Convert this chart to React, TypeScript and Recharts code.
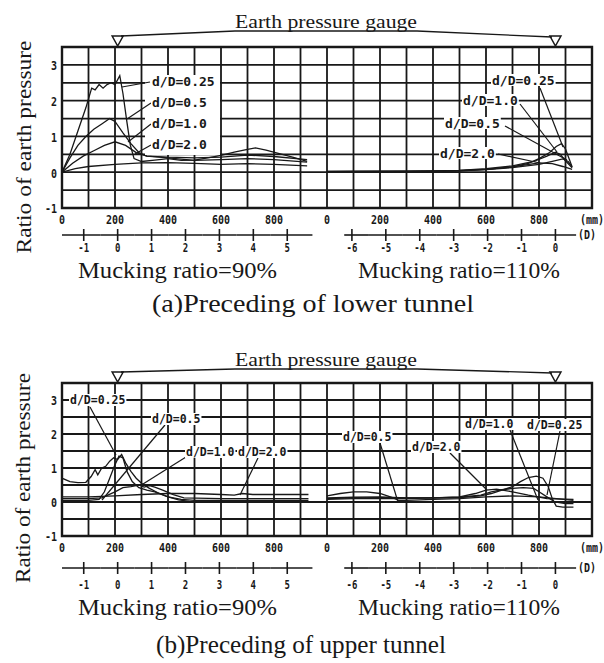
import React from 'react';
import { LineChart, Line, XAxis, YAxis, CartesianGrid, ReferenceDot, ReferenceArea } from 'recharts';

type Pt = [number, number];

// ---------- (a) Preceding of lower tunnel ----------
// Mucking ratio = 90%  (x in mm)
const a90_025: Pt[] = [[0,0],[30,0.5],[60,1.15],[90,1.8],[112,2.35],[125,2.3],[140,2.45],[155,2.35],[170,2.45],[185,2.5],[200,2.45],[218,2.7],[230,2.2],[245,1.4],[258,0.75],[272,0.38],[300,0.3],[350,0.34],[400,0.38],[450,0.33],[500,0.34],[550,0.4],[600,0.47],[650,0.56],[700,0.64],[730,0.68],[770,0.62],[820,0.52],[870,0.42],[925,0.3]];
const a90_05: Pt[] = [[0,0],[30,0.4],[60,0.75],[90,1.0],[120,1.2],[150,1.35],[180,1.5],[200,1.42],[230,1.1],[260,0.8],[290,0.55],[320,0.45],[400,0.42],[500,0.4],[600,0.42],[700,0.48],[800,0.44],[925,0.35]];
const a90_10: Pt[] = [[0,0],[40,0.25],[80,0.45],[120,0.6],[160,0.75],[200,0.85],[240,0.75],[280,0.55],[320,0.45],[400,0.4],[500,0.33],[600,0.35],[700,0.38],[800,0.35],[925,0.28]];
const a90_20: Pt[] = [[0,0],[50,0.1],[100,0.16],[200,0.22],[300,0.26],[400,0.27],[500,0.25],[600,0.22],[700,0.24],[800,0.22],[925,0.18]];
// Mucking ratio = 110%  (x in mm of the right section)
const a110_025: Pt[] = [[0,0.02],[100,0.03],[200,0.03],[300,0.03],[400,0.04],[500,0.05],[600,0.08],[700,0.15],[760,0.25],[800,0.38],[840,0.55],[865,0.72],[885,0.8],[900,0.65],[915,0.35],[925,0.15]];
const a110_10: Pt[] = [[0,0.02],[200,0.02],[400,0.03],[500,0.05],[600,0.1],[700,0.18],[780,0.3],[830,0.45],[862,0.56],[880,0.5],[900,0.32],[925,0.12]];
const a110_05: Pt[] = [[0,0.01],[200,0.02],[400,0.03],[500,0.04],[600,0.07],[700,0.13],[800,0.22],[850,0.3],[890,0.37],[910,0.3],[925,0.15]];
const a110_20: Pt[] = [[0,0.01],[200,0.01],[400,0.02],[500,0.04],[600,0.08],[700,0.15],[800,0.26],[850,0.24],[890,0.16],[925,0.08]];

// ---------- (b) Preceding of upper tunnel ----------
const b90_025: Pt[] = [[0,0.7],[30,0.6],[60,0.57],[90,0.58],[110,0.75],[125,0.95],[135,0.8],[150,1.0],[165,1.05],[180,1.2],[195,1.3],[210,1.25],[225,1.4],[240,1.15],[260,0.9],[280,0.7],[300,0.55],[330,0.4],[360,0.28],[400,0.15],[440,0.06],[480,0.02],[600,0.0],[700,0.0],[800,0.0],[930,0.0]];
const b90_05: Pt[] = [[0,0.05],[50,0.05],[100,0.05],[140,0.08],[160,0.3],[180,0.7],[200,1.1],[215,1.35],[230,1.3],[245,0.9],[265,0.6],[290,0.42],[320,0.35],[350,0.3],[400,0.15],[450,0.08],[500,0.05],[600,0.05],[700,0.05],[800,0.05],[930,0.05]];
const b90_10: Pt[] = [[0,0.1],[100,0.1],[150,0.12],[200,0.3],[230,0.42],[260,0.45],[290,0.5],[310,0.44],[330,0.48],[350,0.44],[380,0.35],[420,0.22],[460,0.12],[600,0.1],[700,0.1],[800,0.1],[930,0.1]];
const b90_20: Pt[] = [[0,0.15],[100,0.15],[200,0.18],[300,0.22],[400,0.25],[500,0.25],[600,0.22],[650,0.2],[680,0.25],[720,0.22],[800,0.22],[930,0.22]];
const b110_025: Pt[] = [[0,0.12],[100,0.14],[200,0.15],[300,0.12],[400,0.12],[500,0.13],[580,0.18],[620,0.25],[660,0.35],[700,0.45],[730,0.6],[760,0.72],[790,0.76],[815,0.7],[835,0.45],[850,0.1],[865,-0.12],[890,-0.15],[930,-0.15]];
const b110_10: Pt[] = [[0,0.1],[100,0.12],[200,0.13],[300,0.12],[400,0.12],[500,0.14],[580,0.2],[620,0.3],[660,0.36],[700,0.4],[740,0.42],[780,0.4],[800,0.3],[830,0.15],[860,0.0],[900,-0.05],[930,-0.05]];
const b110_05: Pt[] = [[0,0.18],[50,0.25],[100,0.3],[150,0.3],[200,0.25],[250,0.12],[270,0.05],[300,0.05],[400,0.08],[500,0.1],[600,0.15],[700,0.18],[800,0.15],[930,0.05]];
const b110_20: Pt[] = [[0,0.08],[100,0.1],[200,0.1],[300,0.1],[400,0.12],[500,0.15],[560,0.25],[600,0.35],[640,0.38],[700,0.3],[760,0.2],[830,0.1],[930,0.08]];

// ---------- axes ----------
const RIGHT_OFFSET = 1000; // right section starts at 1000 mm on the shared grid
const X_MAX = 2000;
const GRID_STEP_X = 100;
const MM_LABELS_LEFT = [0, 200, 400, 600, 800];
const MM_LABELS_RIGHT = [0, 200, 400, 600, 800];
const MM_UNIT = '(mm)';
const Y_TICKS = [-1, -0.5, 0, 0.5, 1, 1.5, 2, 2.5, 3, 3.5];
const Y_LABELS = [-1, 0, 1, 2, 3];
const D_LEFT = [-1, 0, 1, 2, 3, 4, 5];
const D_RIGHT = [-6, -5, -4, -3, -2, -1, 0];
const GAUGE_LEFT = 210;
const GAUGE_RIGHT = 1862;
const D_MM = 128;
const D_LINE_LEFT: [number, number] = [0, 945];
const D_LINE_RIGHT: [number, number] = [1065, 1940];

const W = 604;
const PLOT_L = 62;
const PLOT_R = 592;
const PX_PER_MM = (PLOT_R - PLOT_L) / X_MAX;

const SERIF = '"Liberation Serif", "Times New Roman", serif';
const MONO = '"DejaVu Sans Mono", "Liberation Mono", monospace';
const INK = '#181818';

const X_TICKS = Array.from({ length: X_MAX / GRID_STEP_X + 1 }, (_, i) => i * GRID_STEP_X);

function mmLabel(v: number): string {
  if (v === X_MAX) return MM_UNIT;
  if (v < RIGHT_OFFSET && MM_LABELS_LEFT.includes(v)) return String(v);
  if (v >= RIGHT_OFFSET && MM_LABELS_RIGHT.includes(v - RIGHT_OFFSET)) return String(v - RIGHT_OFFSET);
  return '';
}

type DInfo = { label: string; from: number; to: number; unit: boolean };
const D_INFO = new Map<number, DInfo>();
D_LEFT.forEach((d, i) => {
  const v = GAUGE_LEFT + d * D_MM;
  D_INFO.set(v, {
    label: String(d),
    from: i === 0 ? D_LINE_LEFT[0] : v - D_MM / 2,
    to: i === D_LEFT.length - 1 ? D_LINE_LEFT[1] : v + D_MM / 2,
    unit: false,
  });
});
D_RIGHT.forEach((d, i) => {
  const v = GAUGE_RIGHT + d * D_MM;
  D_INFO.set(v, {
    label: String(d),
    from: i === 0 ? D_LINE_RIGHT[0] : v - D_MM / 2,
    to: i === D_RIGHT.length - 1 ? D_LINE_RIGHT[1] : v + D_MM / 2,
    unit: i === D_RIGHT.length - 1,
  });
});
const D_TICKS = Array.from(D_INFO.keys());
const D_DUMMY = D_TICKS.map((x) => ({ x, v: null as number | null }));

const tickText: React.CSSProperties = { fontFamily: MONO, fontWeight: 700, fill: INK };

const MmTick = (props: any) => {
  const { x, y, payload } = props;
  const label = mmLabel(payload.value);
  if (!label) return <g />;
  return (
    <g transform={`translate(${x},${y + 12})`}>
      <text textAnchor="middle" dominantBaseline="central" fontSize={10} transform="scale(1,1.3)" style={tickText}>{label}</text>
    </g>
  );
};

const YTick = (props: any) => {
  const { x, y, payload } = props;
  if (!Y_LABELS.includes(payload.value)) return <g />;
  return (
    <g transform={`translate(${x - 5},${y + 1})`}>
      <text textAnchor="end" dominantBaseline="central" fontSize={10} transform="scale(1,1.3)" style={tickText}>{String(payload.value)}</text>
    </g>
  );
};

const DTick = (props: any) => {
  const { x, y, payload, lineDy, labelDy } = props;
  const info = D_INFO.get(payload.value);
  if (!info) return <g />;
  const ly = y + lineDy;
  const x1 = x - (payload.value - info.from) * PX_PER_MM;
  const x2 = x + (info.to - payload.value) * PX_PER_MM;
  return (
    <g>
      <line x1={x1} x2={x2} y1={ly} y2={ly} stroke={INK} strokeWidth={1.6} />
      <line x1={x} x2={x} y1={ly - 6} y2={ly + 6} stroke={INK} strokeWidth={1.6} />
      <g transform={`translate(${x},${y + labelDy})`}>
        <text textAnchor="middle" dominantBaseline="central" fontSize={9} transform="scale(1,1.3)" style={tickText}>{info.label}</text>
      </g>
      {info.unit && (
        <g transform={`translate(${x2 + 2},${ly})`}>
          <text textAnchor="start" dominantBaseline="central" fontSize={10} transform="scale(1,1.3)" style={tickText}>(D)</text>
        </g>
      )}
    </g>
  );
};

const GaugeMark = (props: any) => {
  const { cx, cy } = props;
  return <path d={`M${cx - 5.5},${cy - 11} L${cx + 5.5},${cy - 11} L${cx},${cy - 1} Z`} fill="#fff" stroke={INK} strokeWidth={1.5} />;
};

const toData = (pts: Pt[], offset = 0) => pts.map(([x, v]) => ({ x: x + offset, v }));

type PanelProps = {
  top: number;
  plotH: number;
  dAxisH: number;
  dLineDy: number;
  dLabelDy: number;
  left: Pt[][];
  right: Pt[][];
};

const Panel = ({ top, plotH, dAxisH, dLineDy, dLabelDy, left, right }: PanelProps) => {
  const marginTop = 47;
  const mmH = 20;
  const height = marginTop + plotH + mmH + dAxisH;
  return (
    <div style={{ position: 'absolute', left: 0, top }}>
      <LineChart width={W} height={height} margin={{ top: marginTop, right: W - PLOT_R, bottom: 0, left: 0 }}>
        <CartesianGrid stroke={INK} strokeWidth={1.8} xAxisId={0} yAxisId={0} />
        <XAxis xAxisId={0} dataKey="x" type="number" domain={[0, X_MAX]} ticks={X_TICKS} interval={0} height={mmH}
          axisLine={false} tickLine={false} tickSize={0} tickMargin={0} tick={<MmTick />} allowDataOverflow />
        <XAxis xAxisId={1} dataKey="x" type="number" domain={[0, X_MAX]} ticks={D_TICKS} interval={0} height={dAxisH}
          axisLine={false} tickLine={false} tickSize={0} tickMargin={0} tick={<DTick lineDy={dLineDy} labelDy={dLabelDy} />} allowDataOverflow />
        <YAxis yAxisId={0} type="number" domain={[-1, 3.5]} ticks={Y_TICKS} interval={0} width={PLOT_L}
          axisLine={false} tickLine={false} tickSize={0} tickMargin={0} tick={<YTick />} allowDataOverflow />
        <ReferenceArea xAxisId={0} yAxisId={0} x1={0} x2={X_MAX} y1={-1} y2={3.5} fill="none" stroke={INK} strokeWidth={2.4} ifOverflow="visible" />
        {left.map((s, i) => (
          <Line key={'l' + i} xAxisId={0} yAxisId={0} data={toData(s)} dataKey="v" type="linear" dot={false}
            stroke={INK} strokeWidth={1.3} isAnimationActive={false} />
        ))}
        {right.map((s, i) => (
          <Line key={'r' + i} xAxisId={0} yAxisId={0} data={toData(s, RIGHT_OFFSET)} dataKey="v" type="linear" dot={false}
            stroke={INK} strokeWidth={1.3} isAnimationActive={false} />
        ))}
        <Line xAxisId={1} yAxisId={0} data={D_DUMMY} dataKey="v" dot={false} stroke="none" isAnimationActive={false} legendType="none" />
        <ReferenceDot xAxisId={0} yAxisId={0} x={GAUGE_LEFT} y={3.5} ifOverflow="visible" shape={GaugeMark} />
        <ReferenceDot xAxisId={0} yAxisId={0} x={GAUGE_RIGHT} y={3.5} ifOverflow="visible" shape={GaugeMark} />
      </LineChart>
    </div>
  );
};

type Ann = { t: string; x: number; y: number; l: [number, number, number, number] };

const ANN_A: Ann[] = [
  { t: 'd/D=0.25', x: 152, y: 81, l: [150, 82, 122, 87] },
  { t: 'd/D=0.5', x: 152, y: 102, l: [151, 103, 127, 119] },
  { t: 'd/D=1.0', x: 152, y: 123, l: [151, 124, 128, 142] },
  { t: 'd/D=2.0', x: 152, y: 144, l: [151, 145, 135, 154] },
  { t: 'd/D=0.25', x: 492, y: 80, l: [540, 88, 563, 147] },
  { t: 'd/D=1.0', x: 463, y: 100, l: [520, 104, 557, 152] },
  { t: 'd/D=0.5', x: 445, y: 123, l: [505, 126, 567, 160] },
  { t: 'd/D=2.0', x: 440, y: 153, l: [498, 154, 540, 163] },
];
const ANN_B: Ann[] = [
  { t: 'd/D=0.25', x: 70, y: 400, l: [90, 407, 116, 455] },
  { t: 'd/D=0.5', x: 152, y: 419, l: [165, 425, 102, 500] },
  { t: 'd/D=1.0', x: 186, y: 452, l: [186, 457, 143, 484] },
  { t: 'd/D=2.0', x: 238, y: 452, l: [258, 458, 240, 495] },
  { t: 'd/D=0.5', x: 343, y: 437, l: [380, 443, 398, 502] },
  { t: 'd/D=2.0', x: 412, y: 447, l: [450, 453, 487, 490] },
  { t: 'd/D=1.0', x: 465, y: 424, l: [510, 430, 538, 500] },
  { t: 'd/D=0.25', x: 527, y: 425, l: [560, 431, 547, 495] },
];

const AnnLabel = ({ a, size }: { a: Ann; size: number }) => {
  const cw = size * 0.602;
  return (
    <g>
      <line x1={a.l[0]} y1={a.l[1]} x2={a.l[2]} y2={a.l[3]} stroke={INK} strokeWidth={1.2} />
      <rect x={a.x - 1} y={a.y - 6} width={a.t.length * cw + 2} height={12} fill="#fff" />
      <text x={a.x} y={a.y} dominantBaseline="central" fontSize={size} fontFamily={MONO} fontWeight={700} fill={INK}>{a.t}</text>
    </g>
  );
};

const Overlay = () => (
  <svg width={W} height={663} style={{ position: 'absolute', left: 0, top: 0, pointerEvents: 'none' }}>
    {/* panel (a) */}
    <text x={235} y={28} fontSize={19} fontFamily={SERIF} fill={INK} textLength={182} lengthAdjust="spacingAndGlyphs">Earth pressure gauge</text>
    <line x1={235} x2={417} y1={31} y2={31} stroke={INK} strokeWidth={1.3} />
    <line x1={121} y1={36} x2={235} y2={31} stroke={INK} strokeWidth={1.3} />
    <line x1={417} y1={31} x2={552} y2={37} stroke={INK} strokeWidth={1.3} />
    <rect x={145} y={77} width={75} height={78} fill="#fff" />
    {ANN_A.map((a, i) => <AnnLabel key={i} a={a} size={13} />)}
    <text transform="translate(31,147) rotate(-90)" textAnchor="middle" fontSize={22} fontFamily={SERIF} fill={INK} textLength={213} lengthAdjust="spacingAndGlyphs">Ratio of earth pressure</text>
    <text x={78} y={278} fontSize={23} fontFamily={SERIF} fill={INK} textLength={199} lengthAdjust="spacingAndGlyphs">Mucking ratio=90%</text>
    <text x={358} y={278} fontSize={23} fontFamily={SERIF} fill={INK} textLength={202} lengthAdjust="spacingAndGlyphs">Mucking ratio=110%</text>
    <text x={152} y={312} fontSize={26} fontFamily={SERIF} fill={INK} textLength={322} lengthAdjust="spacingAndGlyphs">(a)Preceding of lower tunnel</text>

    {/* panel (b) */}
    <text x={235} y={366} fontSize={19} fontFamily={SERIF} fill={INK} textLength={182} lengthAdjust="spacingAndGlyphs">Earth pressure gauge</text>
    <line x1={235} x2={417} y1={369} y2={369} stroke={INK} strokeWidth={1.3} />
    <line x1={121} y1={372} x2={235} y2={369} stroke={INK} strokeWidth={1.3} />
    <line x1={417} y1={369} x2={552} y2={373} stroke={INK} strokeWidth={1.3} />
    {ANN_B.map((a, i) => <AnnLabel key={i} a={a} size={11.5} />)}
    <text transform="translate(30,478) rotate(-90)" textAnchor="middle" fontSize={22} fontFamily={SERIF} fill={INK} textLength={210} lengthAdjust="spacingAndGlyphs">Ratio of earth pressure</text>
    <text x={78} y={615} fontSize={23} fontFamily={SERIF} fill={INK} textLength={199} lengthAdjust="spacingAndGlyphs">Mucking ratio=90%</text>
    <text x={358} y={615} fontSize={23} fontFamily={SERIF} fill={INK} textLength={202} lengthAdjust="spacingAndGlyphs">Mucking ratio=110%</text>
    <text x={156} y={653} fontSize={26} fontFamily={SERIF} fill={INK} textLength={290} lengthAdjust="spacingAndGlyphs">(b)Preceding of upper tunnel</text>
  </svg>
);

export default function App() {
  return (
    <div style={{ position: 'absolute', left: 0, top: 0, width: W, height: 663, background: '#fff', overflow: 'hidden' }}>
      <Panel top={0} plotH={161} dAxisH={40} dLineDy={7} dLabelDy={20}
        left={[a90_025, a90_05, a90_10, a90_20]} right={[a110_025, a110_10, a110_05, a110_20]} />
      <Panel top={336} plotH={153} dAxisH={45} dLineDy={12} dLabelDy={29}
        left={[b90_025, b90_05, b90_10, b90_20]} right={[b110_025, b110_10, b110_05, b110_20]} />
      <Overlay />
    </div>
  );
}
